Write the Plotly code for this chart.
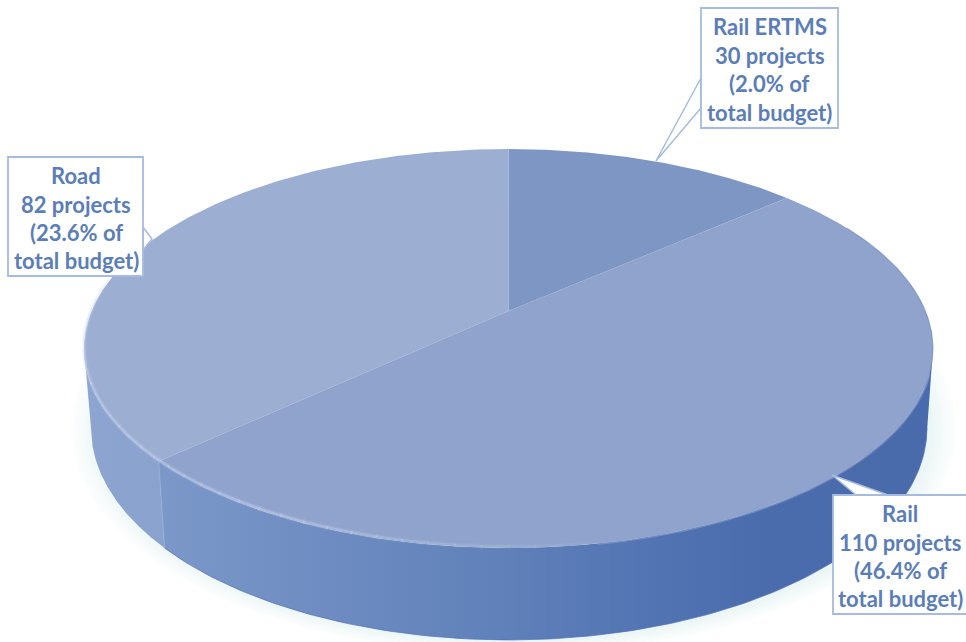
import numpy as np
import plotly.graph_objects as go

# Programme figures
names = ["Rail ERTMS", "Rail", "Road"]
projects = [30, 110, 82]
budget_share = [2.0, 46.4, 23.6]
top_colors = ["#7e96c4", "#8fa3cd", "#9cafd3"]

WIDTH, HEIGHT = 966, 642
text_color = "#5b7db8"
box_color = "#a6bbde"

# Tilted-disc projection, in axis units
CX, APEX_Y = 508.5, 311.0
TILT, SCALE_X, SCALE_Y = 0.188, 416.9, 192.4
RIM_CY = 348.5
BASE_CX, BASE_CY, BASE_SX, BASE_SY = 509.0, 428.0, 418 / 424.5, 212 / 199.5


def rim(theta):
    w = 1 + TILT * np.cos(theta)
    return CX + SCALE_X * np.sin(theta) / w, APEX_Y - SCALE_Y * np.cos(theta) / w


def base_rim(theta):
    x, y = rim(theta)
    return BASE_CX + BASE_SX * (x - CX), BASE_CY + BASE_SY * (y - RIM_CY)


def sweep(a, b, n=160):
    return np.linspace(a, b, n)


edges = np.concatenate([[0], np.cumsum(projects)]) / sum(projects) * 2 * np.pi
theta_r = np.arccos(-TILT)
theta_l = 2 * np.pi - theta_r
seam = edges[2]

fig = go.Figure()


def polygon(x, y, **kw):
    fig.add_trace(go.Scatter(x=np.append(x, x[0]), y=np.append(y, y[0]), mode="lines",
                             fill="toself", line=dict(width=0), hoverinfo="skip", **kw))


# Soft shadow beneath the drum
full = sweep(0, 2 * np.pi, 240)
bx, by = base_rim(full)
for grow in range(2, 27, 3):
    f = 1 + grow / 420
    polygon(BASE_CX + 5 + (bx - BASE_CX) * f, BASE_CY + 2 + (by - BASE_CY) * f,
            fillcolor="rgba(140,160,205,0.016)")


def wall(a, b, stops):
    t = sweep(a, b)
    tx, ty = rim(t)
    ux, uy = base_rim(t)
    x = np.concatenate([tx, ux[::-1]])
    y = np.concatenate([ty, uy[::-1]])
    polygon(x, y, fillgradient=dict(type="horizontal", colorscale=stops))


# Outer wall of the drum
wall(theta_r, seam, [[0, "#7c98c9"], [0.2, "#6f8dc2"], [0.45, "#5f80b9"],
                     [0.62, "#5375b3"], [0.78, "#4a6cad"], [1, "#4a6bab"]])
wall(seam, theta_l, [[0, "#8ea5d0"], [0.5, "#8ba3cf"], [1, "#8aa2ce"]])

# Seam and lower edge of the wall
sx0, sy0 = rim(np.array([seam]))
sx1, sy1 = base_rim(np.array([seam]))
fig.add_trace(go.Scatter(x=[sx0[0], sx1[0]], y=[sy0[0], sy1[0]], mode="lines",
                         line=dict(color="rgba(150,172,214,0.7)", width=1.4), hoverinfo="skip"))
lx, ly = base_rim(sweep(theta_r, seam))
fig.add_trace(go.Scatter(x=lx, y=ly, mode="lines", line=dict(color="rgba(79,114,181,0.7)", width=1),
                         hoverinfo="skip"))

# Top face, one wedge per sector
for i, color in enumerate(top_colors):
    t = sweep(edges[i], edges[i + 1])
    x, y = rim(t)
    polygon(np.append(x, CX), np.append(y, APEX_Y), fillcolor=color)

# Dark line around the far right of the rim
dx, dy = rim(sweep(np.radians(62), np.radians(112)))
fig.add_trace(go.Scatter(x=dx, y=dy, mode="lines", line=dict(color="rgba(80,115,180,0.45)", width=1.2),
                         hoverinfo="skip"))

# Blurred boundary where the face meets the dark wall
sx, sy = rim(sweep(np.radians(108), np.radians(170)))
fig.add_trace(go.Scatter(x=sx, y=sy, mode="lines", line=dict(color="rgba(143,163,205,0.5)", width=3),
                         hoverinfo="skip"))

# Bevel highlight along the near rim, fading at both ends
steps = np.linspace(np.radians(165), np.radians(285), 41)
for a, b in zip(steps[:-1], steps[1:]):
    mid = (a + b) / 2
    alpha = np.clip(min((mid - steps[0]) / np.radians(40), (steps[-1] - mid) / np.radians(15)), 0, 1)
    hx, hy = rim(sweep(a - 0.002, b + 0.002, 6))
    for width, strength in ((5, 0.14), (2.2, 0.38)):
        fig.add_trace(go.Scatter(x=hx, y=hy - 1.5, mode="lines",
                                 line=dict(color=f"rgba(205,216,238,{alpha * strength:.3f})", width=width),
                                 hoverinfo="skip"))

# Callouts: pointer, box, then four lines of text
callouts = [
    dict(box=(701, 8, 838, 128), tip=(656, 161), base=((701, 78), (701, 108)), cx=769.5, ys=(26, 55, 83, 112)),
    dict(box=(833, 495, 969, 614), tip=(832, 475), base=((856, 495), (888, 495)), cx=900, ys=(513, 542, 570, 598)),
    dict(box=(8, 157, 143, 276), tip=(152, 239), base=((143, 227), (143, 250)), cx=76, ys=(175, 204, 232, 260)),
]
shapes, annotations = [], []
for name, n, share, c in zip(names, projects, budget_share, callouts):
    (a, b) = c["base"]
    tx, ty = c["tip"]
    shapes.append(dict(type="path", path=f"M{a[0]},{a[1]} L{tx},{ty} L{b[0]},{b[1]} Z",
                       fillcolor="white", line=dict(color=box_color, width=1.5), layer="above"))
    x0, y0, x1, y1 = c["box"]
    shapes.append(dict(type="rect", x0=x0, y0=y0, x1=x1, y1=y1, fillcolor="white",
                       line=dict(color=box_color, width=1.8), layer="above"))
    lines = [name, f"{n} projects", f"({share:.1f}% of", "total budget)"]
    for text, y in zip(lines, c["ys"]):
        annotations.append(dict(x=c["cx"], y=y, text=f"<b>{text}</b>", showarrow=False,
                                xanchor="center", yanchor="middle",
                                font=dict(family="Lato", size=22, color=text_color)))

fig.update_layout(
    width=WIDTH, height=HEIGHT, margin=dict(l=0, r=0, t=0, b=0),
    paper_bgcolor="white", plot_bgcolor="white", showlegend=False, hovermode=False,
    xaxis=dict(range=[0, WIDTH], visible=False, fixedrange=True),
    yaxis=dict(range=[HEIGHT, 0], visible=False, fixedrange=True),
    shapes=shapes, annotations=annotations,
)
fig.write_html("out.html", config=dict(displayModeBar=False))
